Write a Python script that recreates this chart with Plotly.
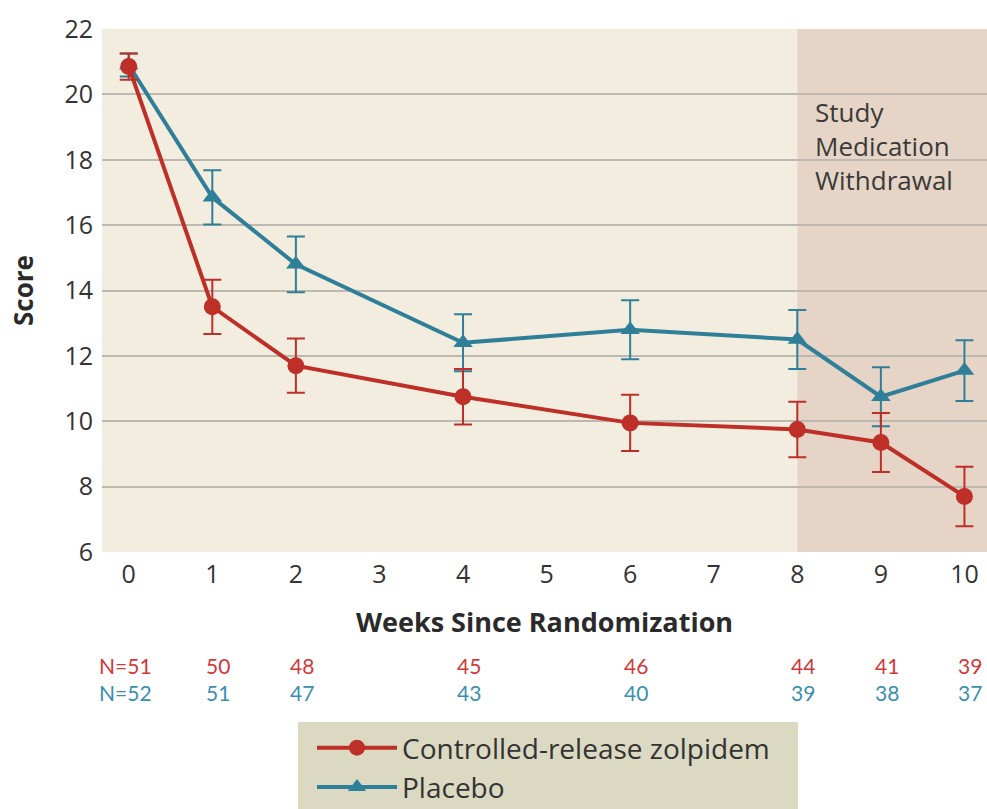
import plotly.graph_objects as go

weeks = [0, 1, 2, 4, 6, 8, 9, 10]
zolpidem = [20.85, 13.5, 11.7, 10.75, 9.95, 9.75, 9.35, 7.7]
zolpidem_err = [0.4, 0.83, 0.83, 0.85, 0.86, 0.85, 0.9, 0.91]
placebo = [20.9, 16.85, 14.8, 12.4, 12.8, 12.5, 10.75, 11.55]
placebo_err = [0.35, 0.83, 0.85, 0.87, 0.9, 0.9, 0.9, 0.93]
n_zolpidem = ["N=51", "50", "48", "45", "46", "44", "41", "39"]
n_placebo = ["N=52", "51", "47", "43", "40", "39", "38", "37"]
x_ticks = list(range(0, 11))
y_ticks = [6, 8, 10, 12, 14, 16, 18, 20, 22]

RED = "#BE2F28"
BLUE = "#2F7F98"
FONT = "Open Sans"

fig = go.Figure()
fig.add_trace(go.Scatter(
    x=weeks, y=placebo, name="Placebo", mode="lines+markers",
    line=dict(color=BLUE, width=4),
    marker=dict(symbol="triangle-up", size=17, color=BLUE),
    error_y=dict(type="data", array=placebo_err, color=BLUE, thickness=2, width=9),
    legendgroup="p", legendrank=2,
))
fig.add_trace(go.Scatter(
    x=weeks, y=zolpidem, name="Controlled-release zolpidem", mode="lines+markers",
    line=dict(color=RED, width=4),
    marker=dict(symbol="circle", size=17, color=RED),
    error_y=dict(type="data", array=zolpidem_err, color=RED, thickness=2, width=9),
    legendgroup="z", legendrank=1,
))

# shaded withdrawal region
fig.add_shape(type="rect", xref="x", yref="y", x0=8, x1=10.27, y0=6, y1=22,
              fillcolor="#E6D5C6", line=dict(width=0), layer="below")
# legend box
fig.add_shape(type="rect", xref="paper", yref="paper", x0=0.2215, x1=0.7864,
              y0=-0.325, y1=-0.52, fillcolor="#DCD9C3", line=dict(width=0), layer="below")

fig.add_annotation(x=8.19, y=18.42, xref="x", yref="y", xanchor="left", yanchor="middle",
                   align="left", showarrow=False,
                   text="Study<br>Medication<br>Withdrawal",
                   font=dict(family=FONT, size=26, color="#3A3A3A"))

for i, w in enumerate(weeks):
    shift = -3 if i == 0 else 6
    fig.add_annotation(x=w, y=(552 - 665.5) / 523, xref="x", yref="paper", yanchor="middle",
                       showarrow=False, text=n_zolpidem[i], xshift=shift,
                       font=dict(family="Lato", size=21, color="#D2383A"))
    fig.add_annotation(x=w, y=(552 - 692.5) / 523, xref="x", yref="paper", yanchor="middle",
                       showarrow=False, text=n_placebo[i], xshift=shift,
                       font=dict(family="Lato", size=21, color="#3A8FB0"))

fig.update_layout(
    width=987, height=809,
    margin=dict(l=102, r=0, t=29, b=257, autoexpand=False),
    paper_bgcolor="white",
    plot_bgcolor="#F3EDE0",
    font=dict(family=FONT, color="#333333"),
    showlegend=True,
    legend=dict(x=(312 - 102) / 885, y=(552 - 723) / 523, xanchor="left", yanchor="top",
                bgcolor="rgba(0,0,0,0)", font=dict(family=FONT, size=28, color="#333333"),
                traceorder="grouped", tracegroupgap=0, itemwidth=80),
    xaxis=dict(range=[-0.32, 10.27], tickvals=x_ticks, showgrid=False, zeroline=False,
               showline=False, ticks="", tickfont=dict(size=25, color="#333333"),
               ticklabelstandoff=5,
               title=dict(text="<b>Weeks Since Randomization</b>",
                          font=dict(size=27, color="#2A2A2A"), standoff=24)),
    yaxis=dict(range=[6, 22], tickvals=y_ticks, showgrid=True, gridcolor="#BDB8B0",
               gridwidth=2, zeroline=False, showline=False, ticks="",
               tickfont=dict(size=25, color="#333333"), ticklabelstandoff=8,
               title=dict(text="<b>Score</b>", font=dict(size=26, color="#2A2A2A"), standoff=23)),
)

fig.write_html("out.html", config={"displayModeBar": False},
               post_script="document.body.style.margin='0';document.body.style.overflow='hidden';")
